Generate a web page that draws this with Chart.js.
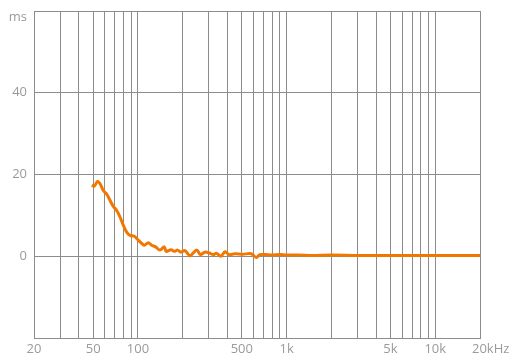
<!DOCTYPE html>
<html>
<head>
<meta charset="utf-8">
<script src="https://cdn.jsdelivr.net/npm/chart.js@4"></script>
<style>
  html, body { margin: 0; padding: 0; background: #fff; }
  #wrap { width: 514px; height: 361px; }
</style>
</head>
<body>
<div id="wrap"><canvas id="delayChart" width="514" height="361"></canvas></div>
<script>
// frequency in Hz, group delay in ms
const freqs = [49, 50.7, 53.6, 55.5, 58.5, 61.6, 64.9, 68.3, 72, 75.8, 79.7, 84, 88.4, 94.6, 99.6,
    104.9, 110.4, 117.4, 123.7, 131.6, 140.7, 150.4, 155, 166.9, 175.6, 185, 194.8, 207, 224, 234,
    250, 263, 282, 302, 321, 338, 361, 386, 410, 448, 508, 578, 626, 660, 720, 800, 900, 1000,
    1200, 1500, 2000, 3000, 5000, 8000, 12000, 20000];
const delays = [17.4, 17.1, 18.3, 17.8, 16.1, 15.2, 13.7, 12.2, 11.2, 9.6, 7.6, 5.9, 5.1, 4.9, 4.1,
    3.3, 2.7, 3.3, 2.7, 2.3, 1.5, 2.3, 1.2, 1.6, 1.2, 1.5, 1.0, 1.4, 0.1, 0.7,
    1.5, 0.4, 1.0, 0.8, 0.4, 0.7, 0.0, 1.1, 0.4, 0.6, 0.5, 0.6, -0.3, 0.4, 0.4, 0.3, 0.4, 0.3,
    0.3, 0.2, 0.3, 0.2, 0.2, 0.2, 0.2, 0.2];

const gridFreqs = [20, 30, 40, 50, 60, 70, 80, 90, 100, 200, 300, 400, 500, 600, 700, 800, 900,
    1000, 2000, 3000, 4000, 5000, 6000, 7000, 8000, 9000, 10000, 20000];
const xLabels = { 20: '20', 50: '50', 100: '100', 500: '500', 1000: '1k', 5000: '5k', 10000: '10k', 20000: '20kHz' };
const yLabels = { 40: '40', 20: '20', 0: '0' };
const yUnit = 'ms';

const gridColor = '#8c8c8c';
const textColor = '#9a9a9a';
const font = { family: 'Open Sans', size: 13 };

// x labels and the unit drawn by hand so "20kHz" and "ms" sit like the original
const labelPlugin = {
    id: 'labels',
    afterDraw(chart) {
        const ctx = chart.ctx;
        const xs = chart.scales.x;
        const area = chart.chartArea;
        ctx.save();
        ctx.font = font.size + 'px "' + font.family + '"';
        ctx.fillStyle = textColor;
        ctx.textBaseline = 'top';
        for (const f in xLabels) {
            const px = xs.getPixelForValue(Number(f));
            const txt = xLabels[f];
            if (txt === '20kHz') {
                ctx.textAlign = 'left';
                ctx.fillText(txt, px - 8, area.bottom + 5);
            } else {
                ctx.textAlign = 'center';
                ctx.fillText(txt, px, area.bottom + 5);
            }
        }
        ctx.textAlign = 'right';
        ctx.textBaseline = 'middle';
        ctx.fillText(yUnit, area.left - 7, area.top + 6);
        ctx.restore();
    }
};

const ctx = document.getElementById('delayChart').getContext('2d');
new Chart(ctx, {
    type: 'line',
    data: {
        datasets: [{
            data: freqs.map((f, i) => ({ x: f, y: delays[i] })),
            borderColor: '#f07800',
            borderWidth: 3,
            pointRadius: 0,
            tension: 0.35,
            fill: false,
        }],
    },
    options: {
        responsive: false,
        animation: false,
        layout: { padding: { top: 11, right: 34, left: 0, bottom: 0 } },
        plugins: { legend: { display: false }, tooltip: { enabled: false } },
        scales: {
            x: {
                type: 'logarithmic',
                min: 20,
                max: 20000,
                afterBuildTicks(scale) {
                    scale.ticks = gridFreqs.map(v => ({ value: v }));
                },
                afterFit(scale) {
                    scale.height = 23;
                    scale.paddingLeft = 0;
                    scale.paddingRight = 0;
                },
                ticks: { display: false },
                grid: { color: gridColor, lineWidth: 1, drawTicks: false },
                border: { color: gridColor },
            },
            y: {
                min: -20,
                max: 60,
                afterFit(scale) {
                    scale.width = 34;
                    scale.paddingTop = 0;
                    scale.paddingBottom = 0;
                },
                ticks: {
                    stepSize: 20,
                    color: textColor,
                    font: font,
                    padding: 7,
                    callback: v => yLabels[v] !== undefined ? yLabels[v] : '',
                },
                grid: { color: gridColor, lineWidth: 1, drawTicks: false },
                border: { color: gridColor },
            },
        },
    },
    plugins: [labelPlugin],
});
</script>
</body>
</html>
